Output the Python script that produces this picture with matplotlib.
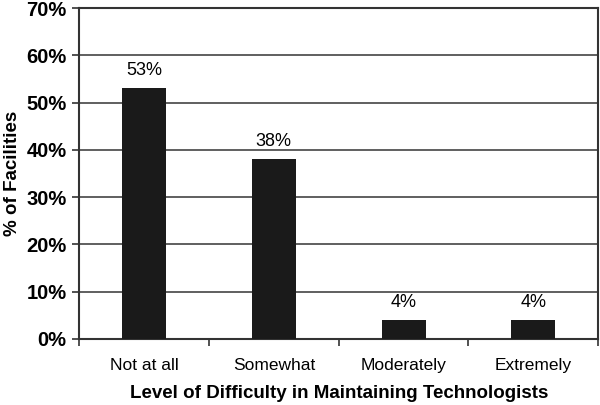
import numpy as np
import matplotlib.pyplot as plt

plt.rcParams['font.family'] = ['Liberation Sans', 'DejaVu Sans']

categories = ["Not at all", "Somewhat", "Moderately", "Extremely"]
values = [53, 38, 4, 4]
yticks = [0, 10, 20, 30, 40, 50, 60, 70]

fig = plt.figure(figsize=(6, 4.05), dpi=100)
ax = fig.add_axes([0.132, 0.163, 0.865, 0.817])

x = np.arange(len(categories))
ax.bar(x, values, width=0.34, color='#1a1a1a', zorder=3)

for xi, v in zip(x, values):
    ax.text(xi, v + 2, "{}%".format(v), ha='center', va='bottom', fontsize=13)

ax.set_xlim(-0.5, len(categories) - 0.5)
ax.set_ylim(0, 70)
ax.set_yticks(yticks)
ax.set_yticklabels(["{}%".format(t) for t in yticks], fontsize=14.5, fontweight='bold')
ax.yaxis.grid(True, color='#444444', linewidth=1.2, zorder=0)

ax.set_xticks(x)
ax.set_xticklabels(categories, fontsize=12.5)
ax.tick_params(axis='x', length=0, pad=14)
ax.set_xticks(np.arange(-0.5, len(categories)), minor=True)
ax.tick_params(axis='x', which='minor', length=5, width=1.2, color='#333333')
ax.tick_params(axis='y', length=5, width=1.2, color='#333333', pad=4)

for s in ax.spines.values():
    s.set_linewidth(1.5)
    s.set_color('#333333')

ax.set_xlabel("Level of Difficulty in Maintaining Technologists", fontsize=13.5, fontweight='bold', labelpad=8)
ax.set_ylabel("% of Facilities", fontsize=13.5, fontweight='bold', labelpad=4)

fig.savefig("out.png")
